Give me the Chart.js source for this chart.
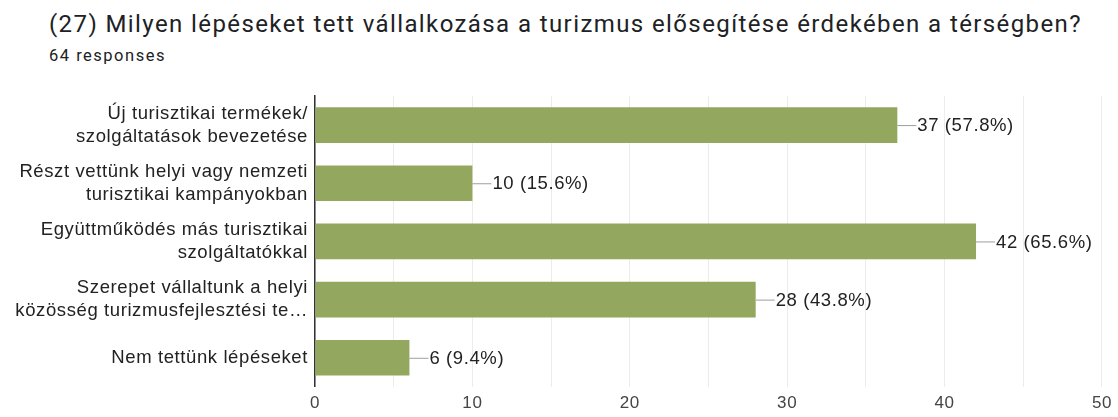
<!DOCTYPE html>
<html>
<head>
<meta charset="utf-8">
<script src="https://cdn.jsdelivr.net/npm/chart.js@4"></script>
<style>
  body { margin: 0; background: #fff; }
  #wrap { position: relative; width: 1118px; height: 417px; }
  #cim { position: absolute; left: 49px; top: 12px; font: 24px/24px Roboto, sans-serif; letter-spacing: 1.4px; color: #202124; white-space: nowrap; }
  #valasz { position: absolute; left: 49px; top: 48px; font: 16.5px/16.5px Roboto, sans-serif; letter-spacing: 1.5px; color: #202124; }
  canvas { position: absolute; left: 0; top: 0; }
</style>
</head>
<body>
<div id="wrap">
  <div id="cim">(27) Milyen lépéseket tett vállalkozása a turizmus elősegítése érdekében a térségben?</div>
  <div id="valasz">64 responses</div>
  <canvas id="grafikon" width="1118" height="417"></canvas>
</div>
<script>
// Válaszlehetőségek (többsoros címkék)
const kategoriak = [
    ['Új turisztikai termékek/', 'szolgáltatások bevezetése'],
    ['Részt vettünk helyi vagy nemzeti', 'turisztikai kampányokban'],
    ['Együttműködés más turisztikai', 'szolgáltatókkal'],
    ['Szerepet vállaltunk a helyi', 'közösség turizmusfejlesztési te…'],
    ['Nem tettünk lépéseket']
];
// Válaszok száma
const ertekek = [37, 10, 42, 28, 6];
// Százalékok a címkékhez
const szazalekok = ['57.8%', '15.6%', '65.6%', '43.8%', '9.4%'];
// x tengely feliratai
const tengelyFeliratok = [0, 10, 20, 30, 40, 50];

const betu = 'Arial, "Liberation Sans", sans-serif';

// kicsit szélesebb betűköz, mint a képen
const betukoz = {
    id: 'betukoz',
    beforeUpdate(chart) { chart.ctx.letterSpacing = '0.6px'; },
    beforeDraw(chart) { chart.ctx.letterSpacing = '0.6px'; }
};

// Címkék a sávok végén, kis vezetővonallal
const ertekCimkek = {
    id: 'ertekCimkek',
    afterDatasetsDraw(chart) {
        const ctx = chart.ctx;
        const meta = chart.getDatasetMeta(0);
        ctx.save();
        ctx.font = '18.5px ' + betu;
        ctx.textBaseline = 'middle';
        meta.data.forEach((bar, i) => {
            const x = bar.x, y = bar.y;
            ctx.strokeStyle = '#9e9e9e';
            ctx.lineWidth = 1;
            ctx.beginPath();
            ctx.moveTo(x, y + 0.5);
            ctx.lineTo(x + 19, y + 0.5);
            ctx.stroke();
            ctx.fillStyle = '#222';
            ctx.fillText(ertekek[i] + ' (' + szazalekok[i] + ')', x + 20, y + 1);
        });
        ctx.restore();
    }
};

const ctx = document.getElementById('grafikon').getContext('2d');
const grafikon = new Chart(ctx, {
    type: 'bar',
    data: {
        labels: kategoriak,
        datasets: [{
            data: ertekek,
            backgroundColor: '#93a85e',
            borderWidth: 0,
            categoryPercentage: 1,
            barPercentage: 0.613
        }]
    },
    plugins: [betukoz, ertekCimkek],
    options: {
        indexAxis: 'y',
        responsive: false,
        animation: false,
        layout: { padding: { top: 96, right: 13, left: 0, bottom: 0 } },
        plugins: {
            legend: { display: false },
            tooltip: { enabled: false }
        },
        scales: {
            x: {
                min: 0,
                max: 50,
                ticks: {
                    stepSize: 5,
                    color: '#444',
                    font: { family: betu, size: 17 },
                    padding: 6,
                    maxRotation: 0,
                    callback: (v) => tengelyFeliratok.includes(v) ? String(v) : ''
                },
                grid: { color: '#ececec', drawTicks: false },
                border: { display: false },
                afterFit: (s) => { s.height = 28; }
            },
            y: {
                ticks: {
                    color: '#222',
                    font: { family: betu, size: 18.5, lineHeight: 1.25 },
                    padding: 7,
                    autoSkip: false
                },
                grid: { display: false, drawTicks: false },
                border: { display: true, color: '#333', width: 1.5 },
                afterFit: (s) => { s.width = 315; }
            }
        }
    }
});
</script>
</body>
</html>
